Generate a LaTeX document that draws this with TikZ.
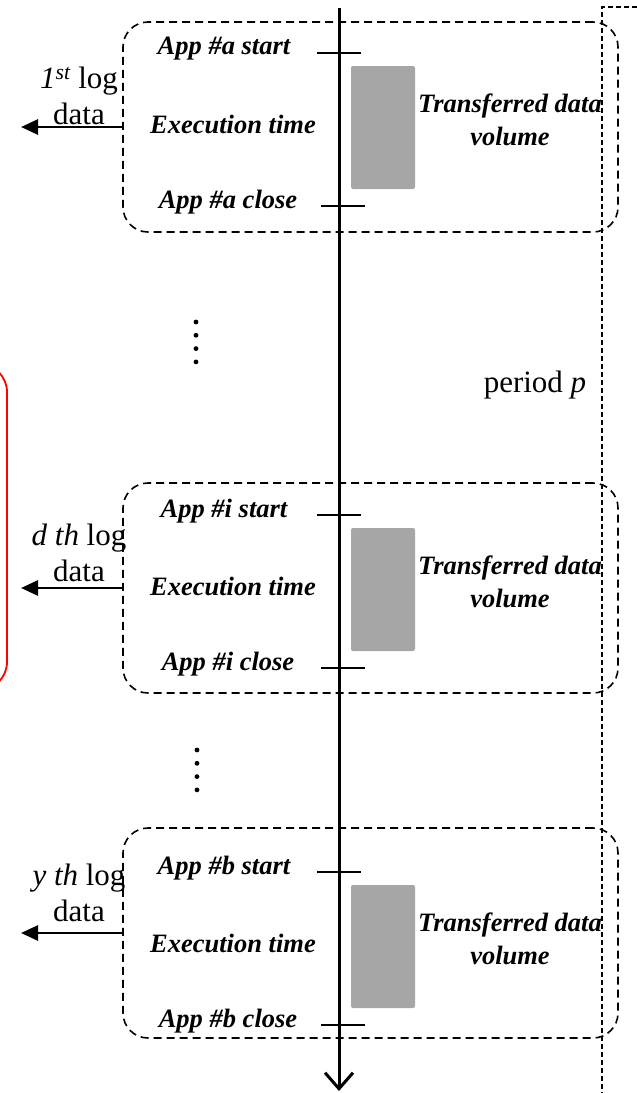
\documentclass[tikz,border=0pt]{standalone}
\usepackage{fontspec}
\setmainfont{Liberation Serif}
\usetikzlibrary{arrows.meta}

\tikzset{
  logbox/.style={draw,dash pattern=on 8pt off 5pt,line width=1.6pt,rounded corners=25pt,
    minimum width=495pt,minimum height=210pt,inner sep=0pt},
  evtick/.style={line width=2pt},
  volbar/.style={fill=black!35,rounded corners=2pt},
  timeaxis/.style={line width=3pt,-{Straight Barb[length=16pt,width=28pt,line width=3pt]}},
  logarrow/.style={line width=2.8pt,-{Triangle[length=17pt,width=15pt]}},
  evlabel/.style={font=\fontsize{26.5}{33}\selectfont\bfseries\itshape,inner sep=0pt},
  loglabel/.style={font=\fontsize{31}{36}\selectfont,align=center,inner sep=0pt},
}

\begin{document}
\begin{tikzpicture}[x=1pt,y=-1pt]
  \useasboundingbox (0,0) rectangle (637,1093);
  % red frame, cut off at the left edge
  \draw[red,line width=1.8pt,rounded corners=28pt] (7,364) rectangle (-200,690);
  % the period p border
  \coordinate (pright) at (637,7);
  \coordinate (pcorner) at (602,7);
  \coordinate (pbottom) at (602,1093);
  \draw[line width=1.5pt,dash pattern=on 5pt off 3pt] (pright) -- (pcorner) -- (pbottom);
  \node[loglabel] (period) at (535,385) {period \textit{p}};
  \coordinate (ttop) at (339,8);
  \coordinate (tend) at (339,1091);
  \coordinate (tipx) at (21,0);
  \foreach \n/\s/\t/\g/\app/\ord in {1/53/22/78/a/{\textit{1\textsuperscript{st}}},
      2/515/483/535/i/{\textit{d th}},3/872/828/875/b/{\textit{y th}}}{
    \node[logbox] (box\n) at (370.5,\t+105) {};
    \fill[volbar] (351,\s+13) rectangle (415,\s+136);
    \draw[evtick] (317,\s) -- (361,\s);
    \draw[evtick] (321,\s+153) -- (365,\s+153);
    \node[evlabel] (start\n) at (224,\s-4) {App \#\app\ start};
    \node[evlabel] (close\n) at (228,\s+149) {App \#\app\ close};
    \node[evlabel] (exec\n) at (233,\s+71) {Execution time};
    \node[evlabel,align=center] (vol\n) at (510,\s+67) {Transferred data\\volume};
    \node[loglabel] (log\n) at (79,\g+18) {\ord\ log\\data};
    \draw[logarrow] (box\n.west) -- (box\n.west -| tipx);
  }
  % vertical dots
  \foreach \d in {0,...,3}{
    \fill (196,322+13.3*\d) circle (2.4pt);
    \fill (197,750+13.3*\d) circle (2.4pt);
  }
  \draw[timeaxis] (ttop) -- (tend);
\end{tikzpicture}
\end{document}
